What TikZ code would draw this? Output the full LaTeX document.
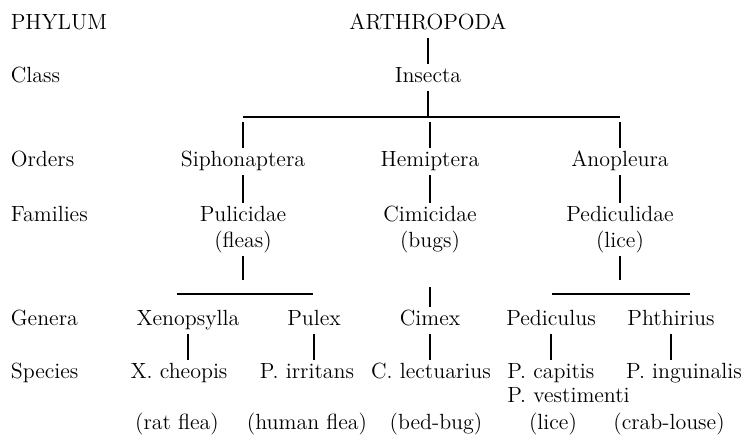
\documentclass[tikz,border=0pt]{standalone}
\usepackage{tikz}
\begin{document}
\begin{tikzpicture}[
  taxon/.style={anchor=base,inner sep=2pt,text height=8.5pt,text depth=2.5pt,font=\fontsize{12.5}{15}\selectfont},
  rank/.style={taxon,anchor=base west},
  link/.style={line width=0.7pt}]
  \useasboundingbox (0,0) rectangle (14.9,8.78);
  % rank names
  \node[rank] (rphy) at (0.14,8.18) {PHYLUM};
  \node[rank] (rcla) at (0.14,7.12) {Class};
  \node[rank] (rord) at (0.14,5.44) {Orders};
  \node[rank] (rfam) at (0.14,4.34) {Families};
  \node[rank] (rgen) at (0.14,2.26) {Genera};
  \node[rank] (rspe) at (0.14,1.20) {Species};
  % phylum, class, orders
  \node[taxon] (arth) at (8.56,8.18) {ARTHROPODA};
  \node[taxon] (ins) at (8.56,7.12) {Insecta};
  \node[taxon] (siph) at (4.86,5.44) {Siphonaptera};
  \node[taxon] (hemi) at (8.60,5.44) {Hemiptera};
  \node[taxon] (anop) at (12.40,5.44) {Anopleura};
  \coordinate (fork) at (8.56,6.44);
  \coordinate (ordtop) at (0,6.34);
  \draw[link] (arth) -- (ins);
  \draw[link] (ins) -- (fork);
  \draw[link] (siph.north |- fork) -- (anop.north |- fork);
  \foreach \o in {siph,hemi,anop}
    \draw[link] (\o.north) -- (\o.north |- ordtop);
  % families
  \node[taxon] (puli) at (4.86,4.34) {Pulicidae};
  \node[taxon] (flea) at (4.86,3.82) {(fleas)};
  \node[taxon] (cimi) at (8.60,4.34) {Cimicidae};
  \node[taxon] (bugs) at (8.60,3.82) {(bugs)};
  \node[taxon] (pedi) at (12.40,4.34) {Pediculidae};
  \node[taxon] (lice) at (12.40,3.82) {(lice)};
  \draw[link] (siph) -- (puli);
  \draw[link] (hemi) -- (cimi);
  \draw[link] (anop) -- (pedi);
  \coordinate (famlow) at (0,3.18);
  \coordinate (cimtop) at (0,3.04);
  \draw[link] (flea.south) -- (flea.south |- famlow);
  \draw[link] (lice.south) -- (lice.south |- famlow);
  % genera
  \node[taxon] (xeno) at (3.76,2.26) {Xenopsylla};
  \node[taxon] (pule) at (6.28,2.26) {Pulex};
  \node[taxon] (cime) at (8.60,2.26) {Cimex};
  \node[taxon] (pedc) at (11.02,2.26) {Pediculus};
  \node[taxon] (phth) at (13.42,2.26) {Phthirius};
  \coordinate (pulL) at (3.54,2.90);
  \coordinate (pulR) at (6.26,2.90);
  \coordinate (pedL) at (11.04,2.90);
  \coordinate (pedR) at (13.80,2.90);
  \draw[link] (pulL) -- (pulR);
  \draw[link] (pedL) -- (pedR);
  \draw[link] (cime.north) -- (cime.north |- cimtop);
  % species
  \node[taxon] (xche) at (3.58,1.20) {X. cheopis};
  \node[taxon] (pirr) at (6.14,1.20) {P. irritans};
  \node[taxon] (clec) at (8.62,1.20) {C. lectuarius};
  \node[taxon,anchor=base west] (pcap) at (10.07,1.20) {P. capitis};
  \node[taxon,anchor=base west] (pves) at (10.07,0.72) {P. vestimenti};
  \node[taxon] (ping) at (13.68,1.20) {P. inguinalis};
  \foreach \g/\s in {xeno/xche,pule/pirr,cime/clec,pedc/pcap,phth/ping}
    \draw[link] (\g.south) -- (\g.south |- \s.north);
  % common names
  \node[taxon] (crat) at (3.54,0.18) {(rat flea)};
  \node[taxon] (chum) at (6.14,0.18) {(human flea)};
  \node[taxon] (cbed) at (8.72,0.18) {(bed-bug)};
  \node[taxon] (clic) at (11.06,0.18) {(lice)};
  \node[taxon] (ccra) at (13.38,0.18) {(crab-louse)};
\end{tikzpicture}
\end{document}
